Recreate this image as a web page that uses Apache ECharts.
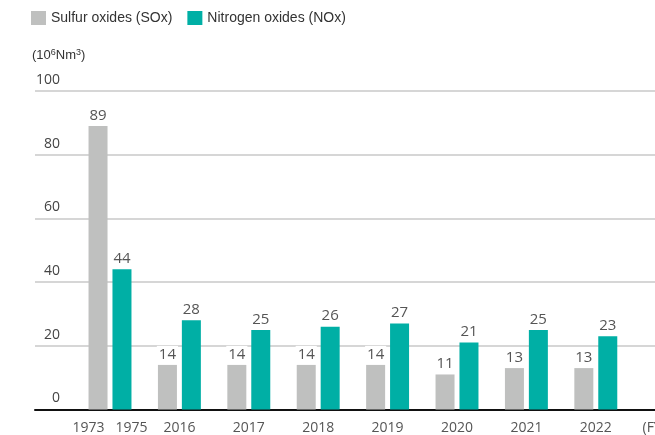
<!DOCTYPE html>
<html>
<head>
<meta charset="utf-8">
<script src="https://cdn.jsdelivr.net/npm/echarts@6/dist/echarts.min.js"></script>
<style>
  html, body { margin: 0; padding: 0; background: #fff; }
  #chart { width: 655px; height: 435px; }
</style>
</head>
<body>
<div id="chart"></div>
<script>
// Fiscal-year groups (first group: SOx from FY1973, NOx from FY1975)
const categories = ['1973   1975', '2016', '2017', '2018', '2019', '2020', '2021', '2022'];
// Emissions, 10^6 Nm3
const soxValues = [89, 14, 14, 14, 14, 11, 13, 13];
const noxValues = [44, 28, 25, 26, 27, 21, 25, 23];
const seriesNames = ['Sulfur oxides (SOx)', 'Nitrogen oxides (NOx)'];
const yMin = 0;
const yMax = 100;
const yStep = 20;

const TEXT_FONT = '"Liberation Sans", Arial, sans-serif';
const NUM_FONT = '"Open Sans", "Noto Sans", sans-serif';
const SOX_COLOR = '#bfc0bf';
const NOX_COLOR = '#00afa5';

const chart = echarts.init(document.getElementById('chart'), null, { renderer: 'canvas' });

// value labels sit on a white box so gridlines break around them
const barLabel = {
  show: true,
  position: 'top',
  distance: 3,
  fontFamily: NUM_FONT,
  fontSize: 15,
  color: '#555',
  backgroundColor: '#fff',
  padding: [1, 2, 0, 2]
};

chart.setOption({
  animation: false,
  textStyle: { fontFamily: TEXT_FONT },
  legend: {
    left: 31,
    top: 11,
    padding: 0,
    itemWidth: 15,
    itemHeight: 14,
    itemGap: 15,
    icon: 'rect',
    selectedMode: false,
    textStyle: { fontFamily: TEXT_FONT, fontSize: 14, color: '#333' },
    data: seriesNames
  },
  graphic: [{
    type: 'text',
    left: 32,
    top: 48,
    style: {
      text: '(10{sup|6}Nm{sup|3})',
      fontFamily: TEXT_FONT,
      fontSize: 13,
      fill: '#333',
      rich: {
        sup: { fontFamily: TEXT_FONT, fontSize: 9, fill: '#333', verticalAlign: 'top', padding: [0, 0, 5, 0] }
      }
    }
  }],
  grid: [
    { left: 35, right: 0, top: 91, bottom: 25.5, outerBoundsMode: 'none', containLabel: false },
    { left: 75.3, width: 555.2, top: 91, bottom: 25.5, outerBoundsMode: 'none', containLabel: false }
  ],
  xAxis: [
    {
      gridIndex: 0,
      type: 'value',
      min: 0,
      max: 1,
      axisLine: { show: true, lineStyle: { color: '#111', width: 2 } },
      axisTick: { show: false },
      axisLabel: { show: false },
      splitLine: { show: false }
    },
    {
      gridIndex: 1,
      type: 'category',
      data: categories,
      axisLine: { show: false },
      axisTick: { show: false },
      axisLabel: { interval: 0, margin: 12, fontFamily: NUM_FONT, fontSize: 14, color: '#555' },
      name: '(FY)',
      nameLocation: 'end',
      nameGap: 12,
      nameTextStyle: { fontFamily: NUM_FONT, fontSize: 14, color: '#555', verticalAlign: 'top', padding: [12, 0, 0, 0] }
    }
  ],
  yAxis: [
    {
      gridIndex: 0,
      type: 'value',
      min: yMin,
      max: yMax,
      interval: yStep,
      axisLine: { show: false },
      axisTick: { show: false },
      splitLine: { lineStyle: { color: '#c8c8c8', width: 1.5 } },
      axisLabel: {
        margin: -25,
        align: 'right',
        verticalAlign: 'bottom',
        padding: [0, 0, 4, 0],
        fontFamily: NUM_FONT,
        fontSize: 14,
        color: '#444'
      }
    },
    {
      gridIndex: 1,
      type: 'value',
      min: yMin,
      max: yMax,
      interval: yStep,
      show: false
    }
  ],
  series: [
    {
      name: seriesNames[0],
      type: 'bar',
      xAxisIndex: 1,
      yAxisIndex: 1,
      data: soxValues,
      barWidth: 19,
      barGap: '26%',
      itemStyle: { color: SOX_COLOR },
      label: barLabel
    },
    {
      name: seriesNames[1],
      type: 'bar',
      xAxisIndex: 1,
      yAxisIndex: 1,
      data: noxValues,
      barWidth: 19,
      barGap: '26%',
      itemStyle: { color: NOX_COLOR },
      label: barLabel
    }
  ]
});
</script>
</body>
</html>
